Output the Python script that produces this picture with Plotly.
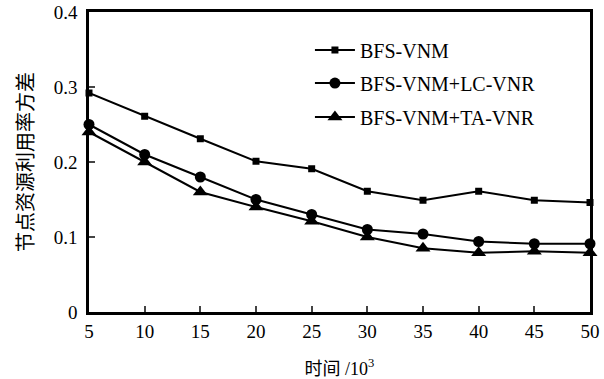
import plotly.graph_objects as go

x_vals = [5, 10, 15, 20, 25, 30, 35, 40, 45, 50]
bfs_vnm = [0.292, 0.261, 0.231, 0.201, 0.191, 0.161, 0.149, 0.161, 0.149, 0.146]
bfs_lc = [0.250, 0.210, 0.180, 0.150, 0.130, 0.110, 0.104, 0.094, 0.091, 0.091]
bfs_ta = [0.240, 0.200, 0.160, 0.140, 0.121, 0.100, 0.085, 0.079, 0.081, 0.079]
names = ["BFS-VNM", "BFS-VNM+LC-VNR", "BFS-VNM+TA-VNR"]
y_ticks = [0, 0.1, 0.2, 0.3, 0.4]
y_tick_labels = ["0", "0.1", "0.2", "0.3", "0.4"]

SERIF = "'Times New Roman', 'Liberation Serif', 'Noto Sans CJK SC', serif"

fig = go.Figure()
series = [(bfs_vnm, "square", 7), (bfs_lc, "circle", 11), (bfs_ta, "triangle-up", 13)]
legend_ids = ["legend", "legend2", "legend3"]
for (vals, sym, sz), nm, lid in zip(series, names, legend_ids):
    fig.add_trace(go.Scatter(x=x_vals, y=vals, name=nm, mode="lines+markers",
                             line=dict(color="black", width=2),
                             marker=dict(symbol=sym, size=sz, color="black"),
                             legend=lid, cliponaxis=False))

leg_common = dict(xanchor="left", yanchor="middle", bgcolor="rgba(0,0,0,0)",
                  font=dict(size=20, family=SERIF, color="black"), itemwidth=40)
legend_rows = [0.873, 0.763, 0.65]
legend_x = 0.441

fig.update_layout(
    width=604, height=379,
    margin=dict(l=89, r=14, t=12, b=67, autoexpand=False),
    plot_bgcolor="white", paper_bgcolor="white",
    font=dict(family=SERIF, size=19, color="black"),
    showlegend=True,
    legend=dict(x=legend_x, y=legend_rows[0], **leg_common),
    legend2=dict(x=legend_x, y=legend_rows[1], **leg_common),
    legend3=dict(x=legend_x, y=legend_rows[2], **leg_common),
    xaxis=dict(range=[5, 50], tickvals=x_vals, ticks="inside", ticklen=6,
               tickwidth=1.5, showline=True, linewidth=2.5, linecolor="black",
               mirror=True, showgrid=False, zeroline=False, automargin=False,
               tickfont=dict(size=19, family=SERIF),
               title=dict(text="时间 /10<sup>3</sup>",
                          font=dict(size=18, family=SERIF),
                          standoff=22)),
    yaxis=dict(range=[0, 0.4], tickvals=y_ticks, ticktext=y_tick_labels,
               ticks="inside", ticklen=6, tickwidth=1.5, showline=True,
               linewidth=2.5, linecolor="black", mirror=True, showgrid=False,
               zeroline=False, automargin=False, tickfont=dict(size=19, family=SERIF),
               ticklabelstandoff=5,
               title=dict(text="节点资源利用率方差",
                          font=dict(size=20, family="'Noto Sans CJK SC'"),
                          standoff=15)),
)

fig.write_html("out.html",
               config={"displayModeBar": False},
               post_script="document.body.style.margin='0';document.body.style.padding='0';")
